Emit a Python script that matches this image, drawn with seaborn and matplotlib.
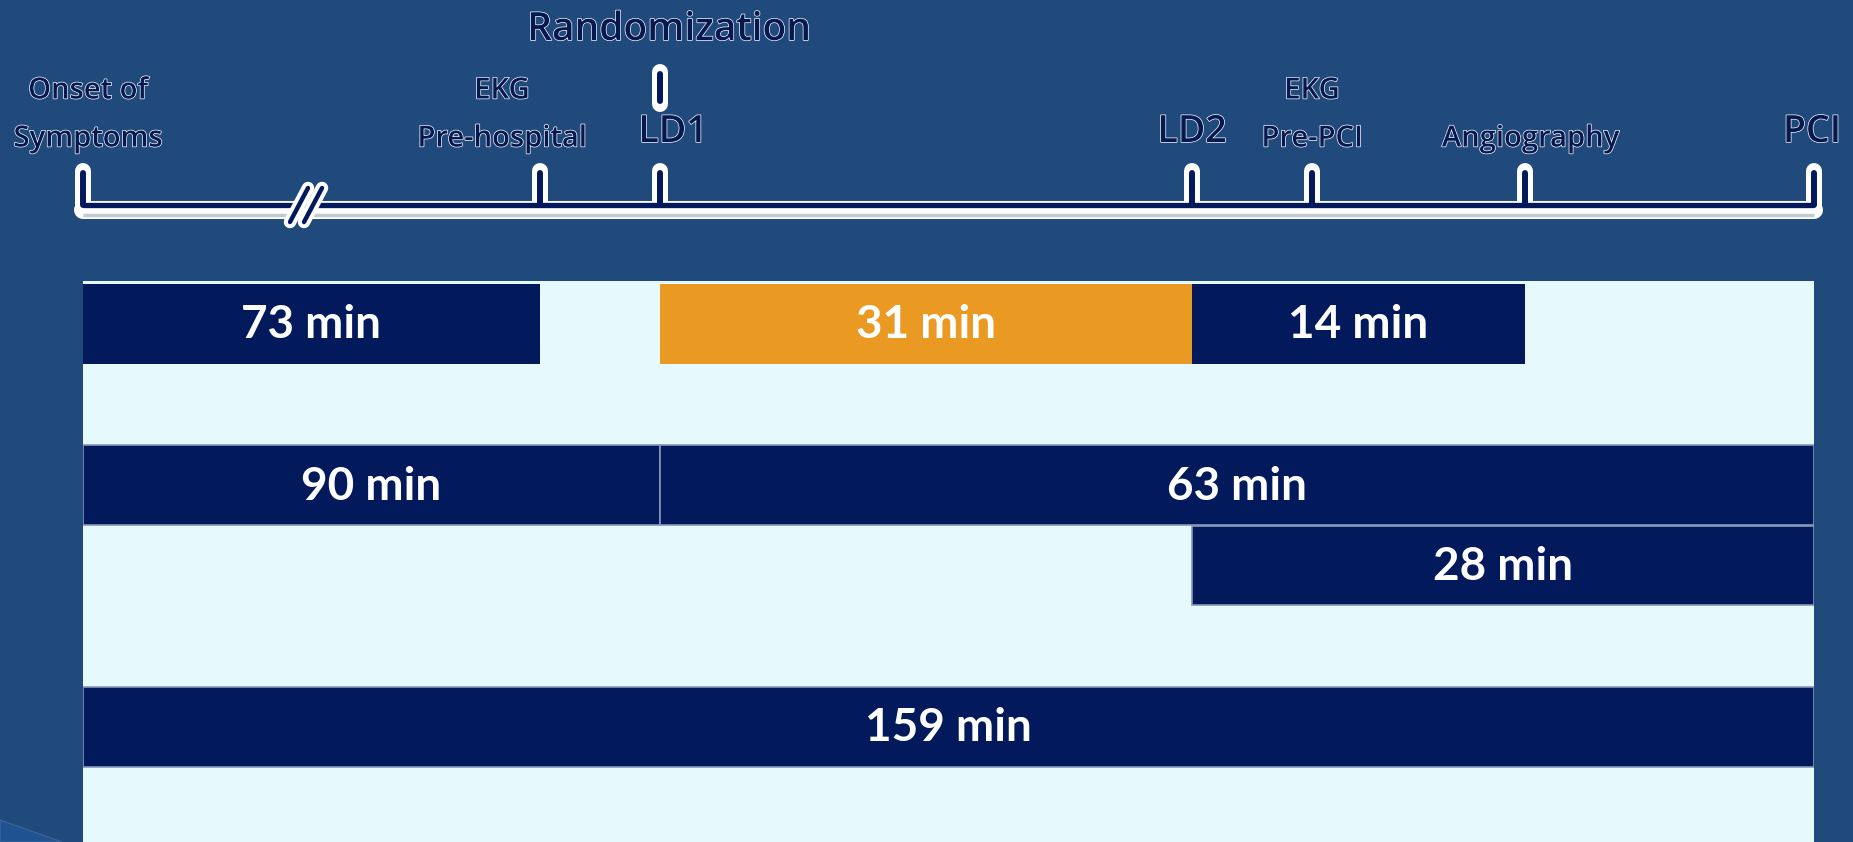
import matplotlib
matplotlib.use("Agg")
import matplotlib.pyplot as plt
import matplotlib.patheffects as pe
from matplotlib.patches import Polygon
import pandas as pd
import seaborn as sns

# ---------------- data ----------------
milestone_keys = ["onset", "ekg_prehosp", "ld1", "ld2", "ekg_prepci", "angio", "pci"]
# schematic (not-to-scale) positions of the milestones on the timeline, 0..100
milestone_pos = [0.0, 26.4, 33.33, 64.07, 71.0, 83.28, 100.0]
milestone_upper = ["Onset of", "EKG", "", "", "EKG", "", ""]
milestone_lower = ["Symptoms", "Pre-hospital", "LD1", "LD2", "Pre-PCI", "Angiography", "PCI"]
event_label = "Randomization"
event_at = "ld1"

seg_minutes = [73, 31, 14, 90, 63, 28, 159]
seg_start = ["onset", "ld1", "ld2", "onset", "ld1", "ld2", "onset"]
seg_end = ["ekg_prehosp", "ld2", "angio", "ld1", "pci", "pci", "pci"]
seg_row = [0, 0, 0, 2, 2, 3, 5]
highlight_interval = ("ld1", "ld2")

# ---------------- style ----------------
BG = "#214A7C"
NAVY = "#021A5C"
ORANGE = "#EA9A22"
PANEL = "#E6FAFD"
TXT_NAVY = "#061850"
W, H = 1853, 842
PX0, PX1 = 83, 1814          # panel x extent in pixels
PANEL_TOP = 281
LABEL_FONT = ["Open Sans", "DejaVu Sans"]

sns.set_theme(style="white")
plt.rcParams["font.family"] = ["Lato", "DejaVu Sans"]

pos = dict(zip(milestone_keys, milestone_pos))


def ux(px):
    return (px - PX0) / (PX1 - PX0) * 100.0


fig = plt.figure(figsize=(W / 100, H / 100), dpi=100, facecolor=BG)

# ---------------- bars panel ----------------
ax_b = fig.add_axes([PX0 / W, 0, (PX1 - PX0) / W, (H - PANEL_TOP) / H])

for i in range(len(seg_minutes)):
    s, e = pos[seg_start[i]], pos[seg_end[i]]
    is_hl = (seg_start[i], seg_end[i]) == highlight_interval
    col = ORANGE if is_hl else NAVY
    df = pd.DataFrame({"row": [seg_row[i]], "span": [e - s]})
    kw = dict(edgecolor="#8597B8", linewidth=1.2) if seg_row[i] > 0 else dict(linewidth=0)
    sns.barplot(data=df, x="span", y="row", orient="y", native_scale=True,
                left=s, color=col, saturation=1, width=0.99, errorbar=None,
                ax=ax_b, **kw)
    ax_b.text((s + e) / 2, seg_row[i] + 0.02, f"{seg_minutes[i]} min", ha="center", va="center",
              color="white", fontsize=33, fontweight="bold")

ax_b.set_facecolor(PANEL)
ax_b.set_xlim(0, 100)
ax_b.set_ylim(6.43, -0.53)
ax_b.set_xticks([])
ax_b.set_yticks([])
ax_b.set_xlabel("")
ax_b.set_ylabel("")
for sp in ax_b.spines.values():
    sp.set_visible(False)

# ---------------- timeline ----------------
ax_t = fig.add_axes([0, 1 - PANEL_TOP / H, 1, PANEL_TOP / H])
ax_t.set_facecolor("none")
ax_t.set_xlim(ux(0), ux(W))
ax_t.set_ylim(PANEL_TOP, 0)
ax_t.set_axis_off()

LINE_Y = 205
TICK_TOP = 171
x0, x1 = milestone_pos[0], milestone_pos[-1]

# white halo / shading
ax_t.plot([x0, x1], [209.5, 209.5], color="white", lw=13, solid_capstyle="round", zorder=1)
ax_t.plot([x0, x1], [215, 215], color="#C3CAD4", lw=2.5, solid_capstyle="butt", zorder=1.5)
for k, xp in zip(milestone_keys, milestone_pos):
    ax_t.plot([xp, xp], [LINE_Y, TICK_TOP], color="white", lw=11.5, solid_capstyle="round", zorder=2)
rx = pos[event_at]
ax_t.plot([rx, rx], [72, 104], color="white", lw=11.5, solid_capstyle="round", zorder=2)

# navy core
ax_t.plot([x0, x1], [LINE_Y, LINE_Y], color=NAVY, lw=3.8, solid_capstyle="butt", zorder=3)
for k, xp in zip(milestone_keys, milestone_pos):
    ax_t.plot([xp, xp], [LINE_Y, TICK_TOP + 2], color=NAVY, lw=4.3, solid_capstyle="round", zorder=4)
ax_t.plot([rx, rx], [74, 101], color=NAVY, lw=4.3, solid_capstyle="round", zorder=4)

# axis break mark
for bx in (296, 310):
    ax_t.plot([ux(bx - 6), ux(bx + 12)], [222, 188], color="white", lw=9,
              solid_capstyle="round", zorder=5)
for bx in (296, 310):
    ax_t.plot([ux(bx - 6), ux(bx + 12)], [222, 188], color=NAVY, lw=3.2,
              solid_capstyle="round", zorder=6)

# labels
halo = [pe.withStroke(linewidth=1.0, foreground="white")]
big_labels = {"ld1", "ld2", "pci"}
nudge = {"onset": 5, "ekg_prehosp": -38, "ld1": 13, "angio": 6, "pci": -2}
for k, xp, up, lo in zip(milestone_keys, milestone_pos, milestone_upper, milestone_lower):
    cx = xp + nudge.get(k, 0) * 100 / (PX1 - PX0)
    if k in big_labels:
        ax_t.text(cx, 132, lo, ha="center", va="center", fontsize=27, color=TXT_NAVY,
                  family=LABEL_FONT, fontweight="semibold", path_effects=halo)
    else:
        if up:
            ax_t.text(cx, 91, up, ha="center", va="center", fontsize=21, color=TXT_NAVY,
                      family=LABEL_FONT, fontweight="semibold", path_effects=halo)
        ax_t.text(cx, 139, lo, ha="center", va="center", fontsize=21, color=TXT_NAVY,
                  family=LABEL_FONT, fontweight="semibold", path_effects=halo)

ax_t.text(rx + 9 * 100 / (PX1 - PX0), 30, event_label, ha="center", va="center",
          fontsize=28, color=TXT_NAVY, family=LABEL_FONT, fontweight="semibold",
          path_effects=halo)

# bottom-left decorative swoosh
fig.add_artist(Polygon([(0, 0), (0, 22 / H), (62 / W, 0)], closed=True,
                       transform=fig.transFigure, facecolor="#1F5290",
                       edgecolor="#3C679C", lw=0.8))

fig.savefig("out.png", dpi=100, facecolor=BG)
